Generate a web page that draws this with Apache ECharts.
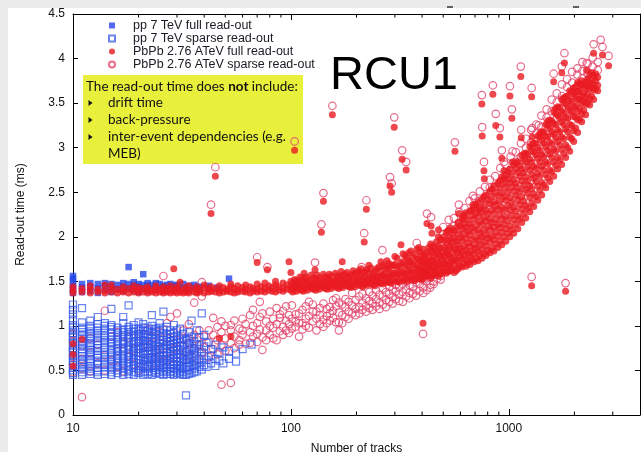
<!DOCTYPE html>
<html><head><meta charset="utf-8">
<script src="https://cdn.jsdelivr.net/npm/echarts@6/dist/echarts.min.js"></script>
<style>html,body{margin:0;padding:0;background:#ececec}#c{width:641px;height:452px}</style>
</head><body><div id="c"></div>
<script>
const seriesNames = ['pp 7 TeV full read-out','pp 7 TeV sparse read-out','PbPb 2.76 ATeV full read-out','PbPb 2.76 ATeV sparse read-out'];
const xTickLabels = [10, 100, 1000];
const xMinorTicks = [20,30,40,50,60,70,80,90,200,300,400,500,600,700,800,900,2000,3000];
const yTickStep = 0.5;
const noteLines = ['drift time','back-pressure','inter-event dependencies (e.g.','MEB)'];

// columns: [number of tracks, read-out times...]
const ppFullCols = [
[10,1.37,1.41,1.45,1.49,1.53,1.56],[11,1.38,1.43,1.47],[12,1.39,1.44,1.48],[13,1.37,1.42,1.47],
[14,1.40,1.45,1.48],[15,1.38,1.43,1.47],[16,1.41,1.46],[17,1.39,1.44,1.48],[18,1.42,1.47,1.66],
[19,1.40,1.45,1.49],[20,1.38,1.44,1.47],[21,1.41,1.46,1.58],[22,1.39,1.45,1.48],[23,1.42,1.46],
[24,1.40,1.44,1.48],[25,1.41,1.47],[26,1.39,1.45],[27,1.42,1.46],[28,1.40,1.47],[29,1.43,1.45],
[30,1.41,1.46],[32,1.42,1.47],[34,1.40,1.45],[36,1.43,1.46],[38,1.41,1.44],[42,1.42,1.45],[46,1.43],[52,1.53]
];
const ppSparseCols = [
[10,0.45,0.50,0.56,0.61,0.67,0.72,0.78,0.84,0.89,0.95,1.01,1.07,1.13,1.18,1.24],
[11,0.45,0.51,0.57,0.62,0.69,0.74,0.80,0.86,0.93,0.98,1.04,1.20],
[12,0.46,0.52,0.58,0.63,0.70,0.76,0.81,0.88,0.94,1.00,1.06],
[13,0.45,0.50,0.57,0.64,0.69,0.75,0.83,0.89,0.95,1.02,1.10],
[14,0.46,0.53,0.59,0.65,0.71,0.78,0.84,0.90,0.97,1.03],
[15,0.45,0.51,0.57,0.63,0.70,0.77,0.82,0.88,0.96,1.01,1.19],
[16,0.47,0.53,0.60,0.66,0.72,0.79,0.85,0.92,0.98],
[17,0.45,0.52,0.58,0.64,0.71,0.76,0.83,0.90,0.96,1.03,1.10],
[18,0.46,0.51,0.59,0.65,0.73,0.78,0.86,0.93,0.99,1.23],
[19,0.45,0.53,0.60,0.67,0.72,0.80,0.87,0.94,1.01],
[20,0.47,0.52,0.58,0.66,0.74,0.81,0.85,0.91,0.97,1.04],
[21,0.45,0.54,0.61,0.68,0.75,0.79,0.88,0.95,1.02],
[22,0.46,0.52,0.59,0.64,0.72,0.83,0.90,0.98],
[23,0.45,0.55,0.62,0.69,0.76,0.82,0.93,1.00,1.12],
[24,0.47,0.53,0.60,0.67,0.73,0.86,0.91,0.97],
[25,0.46,0.51,0.58,0.65,0.77,0.84,0.94,1.03],
[26,0.45,0.56,0.63,0.70,0.80,0.88,0.96,1.16],
[27,0.48,0.54,0.61,0.74,0.82,0.90,0.99],
[28,0.46,0.52,0.66,0.72,0.79,0.87,0.95],
[29,0.45,0.57,0.63,0.76,0.84,0.92,1.01],
[30,0.47,0.53,0.60,0.69,0.81,0.89],
[31,0.46,0.55,0.64,0.73,0.86,0.97],
[32,0.48,0.58,0.67,0.78,0.91],
[33,0.45,0.54,0.62,0.71,0.84,0.22],
[34,0.50,0.59,0.68,0.80,0.93],
[35,0.47,0.56,0.65,0.75,0.88,1.06],
[36,0.52,0.61,0.72,0.83],
[37,0.49,0.58,0.69,0.79,0.95],
[38,0.54,0.63,0.74,0.87],
[39,0.51,0.60,0.71,1.14],
[40,0.56,0.66,0.77,0.90],
[41,0.54,0.62,0.81],[43,0.58,0.67,0.74],[45,0.55,0.63,0.79],[47,0.61,0.70],
[49,0.58,0.76],[52,0.63,0.72],[56,0.69,0.60],[60,0.74],[66,0.79]
];
// further pp sparse events in the crowded low-multiplicity block
const ppSparseDenseCols = [
[10,0.47,0.53,0.59,0.64,0.70,0.75,0.81,0.87,0.92,0.98],[11,0.48,0.54,0.60,0.66,0.71,0.77,0.83,0.90,0.96],
[12,0.49,0.55,0.61,0.67,0.73,0.79,0.85,0.91,0.97],[13,0.48,0.53,0.60,0.67,0.72,0.79,0.86,0.92,0.98],
[14,0.49,0.56,0.62,0.68,0.75,0.81,0.87,0.94,1.00],[15,0.48,0.54,0.60,0.67,0.73,0.80,0.85,0.92,0.99],
[16,0.50,0.56,0.63,0.69,0.75,0.82,0.88,0.95],[17,0.48,0.55,0.61,0.67,0.74,0.80,0.87,0.93],
[18,0.49,0.55,0.62,0.69,0.76,0.82,0.89,0.96],[19,0.48,0.56,0.63,0.70,0.76,0.83,0.90,0.97],
[20,0.49,0.55,0.62,0.70,0.77,0.83,0.88,0.94],[21,0.48,0.57,0.64,0.71,0.77,0.84,0.91,0.98],
[22,0.49,0.55,0.62,0.68,0.76,0.80,0.87,0.94],[23,0.48,0.58,0.65,0.72,0.79,0.86,0.96],
[24,0.50,0.56,0.63,0.70,0.77,0.82,0.94],[25,0.48,0.55,0.61,0.70,0.74,0.80,0.88,0.98],
[26,0.49,0.53,0.60,0.66,0.75,0.84,0.92],[27,0.46,0.51,0.57,0.66,0.70,0.78,0.86],
[28,0.49,0.56,0.60,0.69,0.76,0.83,0.91],[29,0.48,0.52,0.60,0.68,0.72,0.80,0.88],
[30,0.50,0.56,0.64,0.73,0.77,0.85,0.95],[31,0.49,0.52,0.60,0.68,0.78,0.82],
[32,0.45,0.52,0.62,0.72,0.85],[34,0.46,0.54,0.63,0.74,0.86],[36,0.48,0.56,0.67,0.77]
];
const pbFullCols = [
[10,1.37,1.40,1.44,0.55,0.68,0.80],[11,1.38,1.42,0.85],[12,1.37,1.41,1.45],[13,1.38,1.41],
[14,1.37,1.40,1.46],[15,1.38,1.42,1.46],[16,1.37,1.41],[17,1.38,1.40,1.44],[18,1.37,1.42],
[19,1.38,1.41,1.45],[20,1.37,1.40,1.43],[21,1.38,1.42],[22,1.37,1.41,1.44],[23,1.38,1.40],
[24,1.37,1.42,1.45],[25,1.38,1.41],[26,1.37,1.40,1.44],[27,1.38,1.42],[28,1.37,1.41,1.45],
[29,1.38,1.40,1.64],[30,1.37,1.42,1.44],[31,1.38,1.49],[32,1.37,1.41],[33,1.38,1.43],
[34,1.37,1.40,1.45],[36,1.38,1.42],[37,1.37,1.44],[38,1.38,1.41],[40,1.37,1.43,1.46],
[42,1.38,1.41],[43,1.39,1.44],[45,1.38,1.42],[47,1.37,1.40,1.45,0.86],[49,1.38,1.43],
[51,1.39,1.41],[53,1.38,1.44,1.47,0.88],[55,1.37,1.42],[57,1.38,1.40,1.45],[60,1.39,1.43],
[62,1.38,1.41,1.46],[65,1.37,1.44],[67,1.39,1.42],[70,1.38,1.41,1.47],[73,1.39,1.44],
[76,1.38,1.42,1.48],[79,1.40,1.45],[82,1.39,1.43],[85,1.38,1.46,1.50],[88,1.40,1.44],
[92,1.39,1.42,1.48],[96,1.41,1.46],[100,1.40,1.44,1.50,1.60],
[104,1.41,1.46,1.52],[108,1.43,1.49],[112,1.40,1.45,1.53],[115,1.59],[117,1.42,1.48,1.55],
[122,1.44,1.50],[127,1.41,1.46,1.54],[132,1.43,1.49,1.57],[138,1.45,1.51],[144,1.42,1.47,1.55],
[150,1.44,1.52,1.58],[156,1.46,1.49],[163,1.43,1.50,1.56],[170,1.45,1.53,1.61],[177,1.47,1.51,1.58],
[185,1.44,1.49,1.55],[193,1.46,1.54,1.62],[201,1.48,1.52,1.59],[210,1.45,1.50,1.57,1.64],
[219,1.47,1.55,1.61],[228,1.49,1.53,1.60,1.68],[238,1.46,1.52,1.58],[248,1.50,1.56,1.64],
[259,1.48,1.54,1.61,1.72],[270,1.51,1.58,1.66],[282,1.49,1.55,1.63,1.70],[294,1.52,1.59,1.68],
[307,1.50,1.57,1.65,1.76],[320,1.54,1.61,1.70],[334,1.52,1.59,1.67,1.79],[348,1.55,1.63,1.73,1.82],
[363,1.53,1.60,1.69,1.77],[379,1.57,1.65,1.75,1.86],[392,1.55,1.62,1.72,1.83],
[404,1.53,1.59,1.63,1.71,1.76,1.86],[421,1.56,1.60,1.67,1.72,1.82],[438,1.54,1.62,1.68,1.74,1.85,1.92],
[456,1.58,1.63,1.70,1.79,1.87],[475,1.56,1.64,1.71,1.81,1.90,2.00],[495,1.60,1.66,1.75,1.83,1.96],
[516,1.59,1.65,1.73,1.82,1.93,2.05],[538,1.62,1.70,1.77,1.89,1.99,2.10],[561,1.60,1.68,1.76,1.87,1.98,2.07],
[585,1.64,1.71,1.82,1.91,2.03,2.16],[610,1.66,1.75,1.84,1.96,2.09,2.20],[636,1.67,1.74,1.85,1.98,2.11,2.27],
[663,1.69,1.78,1.89,2.02,2.14,2.29],[692,1.72,1.81,1.91,2.06,2.20,2.33],[722,1.73,1.84,1.96,2.08,2.23,2.39],
[753,1.76,1.86,2.00,2.14,2.28,2.42],[785,1.79,1.90,2.02,2.18,2.30,2.47],[819,1.82,1.94,2.08,2.20,2.37,2.51],
[854,1.84,1.97,2.11,2.26,2.39,2.57],[891,1.88,2.01,2.14,2.31,2.46,2.60],[929,1.91,2.05,2.20,2.33,2.49,2.67],
[969,1.95,2.09,2.23,2.41,2.56,2.69],[1011,2.00,2.12,2.30,2.44,2.61,2.76],[1054,2.04,2.19,2.33,2.51,2.64,2.81],
[1100,2.09,2.23,2.41,2.55,2.72,2.84],[1147,2.16,2.31,2.45,2.63,2.76,2.91],[1196,2.21,2.35,2.53,2.67,2.84,2.94],
[1248,2.28,2.44,2.57,2.75,2.87,3.01],[1302,2.34,2.48,2.66,2.79,2.95,3.05],[1358,2.41,2.57,2.71,2.88,3.00,3.13],
[1416,2.47,2.61,2.79,2.92,3.08,3.18],[1477,2.55,2.70,2.84,3.01,3.13,3.26],[1541,2.62,2.75,2.93,3.06,3.22,3.31],
[1607,2.68,2.84,2.98,3.15,3.27,3.41],[1676,2.76,2.89,3.07,3.20,3.36,3.46],[1749,2.81,2.98,3.12,3.29,3.41,3.54],
[1824,2.89,3.03,3.21,3.34,3.49,3.57],[1903,2.96,3.12,3.26,3.42,3.53,3.64],[1985,3.07,3.19,3.35,3.46,3.60,3.67],
[2070,3.17,3.31,3.41,3.54,3.63,3.73],[2160,3.29,3.38,3.50,3.58,3.70,3.75],[2253,3.37,3.49,3.56,3.67,3.74],
[2350,3.48,3.55,3.66,3.72,3.82],[2452,3.54,3.65,3.71,3.81],[2557,3.64,3.70,3.79]
];
// extra PbPb full events read between the columns above (mid band)
const pbFullMidCols = [
[102,1.38,1.43,1.48],[106,1.39,1.45,1.51],[110,1.41,1.47,1.55],[114,1.39,1.44,1.50],
[119,1.40,1.46,1.52],[124,1.42,1.47,1.57],[130,1.40,1.45,1.52],[135,1.41,1.47,1.54],
[141,1.43,1.49,1.58],[147,1.41,1.46,1.53],[153,1.42,1.48,1.56],[160,1.44,1.51,1.59],
[166,1.42,1.47,1.55],[173,1.43,1.49,1.57],[181,1.45,1.52,1.60],[189,1.43,1.48,1.57],
[197,1.44,1.50,1.59],[205,1.46,1.53,1.62],[214,1.44,1.51,1.59],[223,1.46,1.52,1.63],
[233,1.47,1.55,1.65],[243,1.45,1.53,1.61],[253,1.48,1.55,1.66],[264,1.47,1.57,1.68],
[276,1.49,1.55,1.64,1.73],[288,1.48,1.57,1.67],[300,1.50,1.59,1.69,1.78],[313,1.49,1.58,1.67],
[327,1.51,1.60,1.72,1.81],[341,1.50,1.58,1.68,1.76],[355,1.52,1.62,1.71,1.84],[371,1.51,1.59,1.68,1.80],
[386,1.53,1.64,1.74,1.88],[398,1.52,1.60,1.69,1.79]
];
// extra PbPb full events read between the columns above (high-multiplicity band)
const pbFullDenseCols = [
[412,1.56,1.62,1.68,1.74,1.80],[429,1.57,1.65,1.71,1.78,1.88],[447,1.56,1.66,1.73,1.82,1.90],
[465,1.60,1.67,1.75,1.84,1.94],[485,1.58,1.69,1.78,1.87,1.97],[505,1.62,1.70,1.79,1.88,2.00],
[527,1.61,1.68,1.80,1.86,1.96,2.07],[549,1.64,1.73,1.82,1.93,2.04],[573,1.62,1.74,1.85,1.95,2.10],
[597,1.67,1.78,1.87,1.99,2.12],[623,1.70,1.79,1.90,2.03,2.15,2.24],[649,1.71,1.81,1.93,2.06,2.19],
[677,1.74,1.84,1.97,2.10,2.24],[707,1.76,1.87,1.99,2.13,2.27,2.36],[737,1.79,1.91,2.04,2.17,2.32],
[769,1.81,1.94,2.08,2.22,2.35,2.45],[802,1.85,1.98,2.12,2.26,2.41],[836,1.87,2.01,2.16,2.30,2.45,2.54],
[872,1.92,2.05,2.20,2.35,2.50],[910,1.95,2.10,2.25,2.40,2.55,2.63],[949,2.00,2.14,2.30,2.45,2.60],
[990,2.04,2.18,2.35,2.50,2.65,2.73],[1032,2.08,2.24,2.39,2.56,2.70],[1077,2.14,2.29,2.46,2.60,2.76,2.83],
[1123,2.20,2.36,2.51,2.68,2.80],[1171,2.26,2.40,2.58,2.72,2.87,2.93],[1222,2.32,2.49,2.63,2.79,2.92],
[1275,2.38,2.54,2.70,2.84,2.98,3.04],[1330,2.45,2.62,2.77,2.92,3.05],[1387,2.52,2.68,2.84,2.97,3.12,3.16],
[1446,2.58,2.75,2.90,3.05,3.18],[1509,2.66,2.82,2.97,3.12,3.25,3.30],[1574,2.73,2.89,3.04,3.18,3.30],
[1641,2.80,2.96,3.11,3.26,3.38,3.44],[1712,2.86,3.03,3.18,3.33,3.45],[1786,2.93,3.10,3.26,3.39,3.52,3.56],
[1863,3.00,3.18,3.33,3.46,3.58],[1944,3.10,3.25,3.40,3.52,3.63],[2027,3.22,3.34,3.47,3.58,3.68],
[2115,3.32,3.44,3.54,3.64,3.72],[2206,3.42,3.52,3.61,3.70],[2301,3.50,3.60,3.69,3.77],
[2400,3.58,3.68,3.76,3.84],[2504,3.66,3.75,3.83]
];
const pbSparseCols = [
[10,0.48,0.57,0.66,0.74,0.83,0.91],[11,0.20,0.52,0.63,0.78],[12,0.49,0.70,0.86],[13,0.58,0.79],
[14,0.50,0.67,1.17],[15,0.61,0.88],[16,0.54,0.72,0.93],[17,0.49,0.80],[18,0.66,0.87],[19,0.57,0.74],
[20,0.50,0.62,0.91],[21,0.69,0.83],[22,0.55,0.77,0.96],[23,0.64,0.88],[24,0.58,0.72],[25,0.67,0.81,0.93],
[26,0.60,0.75,1.56],[27,0.70,0.86,1.03],[28,0.63,0.79,1.10],[29,0.57,0.74,0.92],[30,0.68,0.84,1.14],
[32,0.63,0.77,0.95],[33,0.71,0.86],[34,0.66,0.81,1.02],[36,0.74,0.90,1.26],[37,0.62,0.85],[38,0.79,0.95],
[39,0.70,1.33,1.49],[40,0.76,0.88],[42,0.65,0.82,0.95],[44,0.74,0.90,1.09],[46,0.68,0.84,0.99],
[48,0.34,0.78,0.93,1.05],[50,0.72,0.86,1.00],[53,0.36,0.81,0.95,1.01],[55,0.75,0.88,1.06],
[58,0.79,0.84,0.97],[60,0.90,0.95,1.08],[62,0.80,1.02],[65,0.81,0.93,1.12],[67,0.88,1.00,1.18],
[70,0.82,0.91,1.03],[72,0.96,1.10,1.27],[74,0.73,0.87,1.14],[77,0.84,0.95,1.05],[80,0.90,1.00,1.16],
[83,0.86,0.98,1.08],[86,0.84,1.02,1.20],[89,0.94,1.09,1.13],[92,0.90,0.99,1.17],[95,0.95,1.06,1.22],
[98,0.92,1.02,1.12],[101,0.97,1.08,1.23],[105,0.99,1.05,1.13],[109,0.88,1.03,1.14],[113,0.96,1.03,1.18],
[117,1.00,1.08,1.22],[121,0.98,1.11,1.27],[126,1.05,1.16,1.24],[131,0.95,1.08,1.16],[136,1.02,1.12,1.20],
[141,0.99,1.07,1.25],[146,1.03,1.11,1.19],[151,1.06,1.14,1.21],[156,1.09,1.17,1.29],[161,1.04,1.22,1.31],
[166,0.95,1.04,1.15,1.26],[172,1.03,1.12,1.24],[178,1.10,1.21,1.30],[184,1.08,1.16,1.27],[191,1.14,1.23,1.37],
[198,1.12,1.19,1.29],[206,1.14,1.21,1.33],[213,1.18,1.26,1.36],[221,1.16,1.22,1.31],[229,1.20,1.28,1.38],
[237,1.18,1.25,1.34],[246,1.22,1.30,1.40],[255,1.19,1.26,1.35],[264,1.24,1.33,1.42],[273,1.21,1.29,1.38],
[283,1.27,1.36,1.44],[293,1.25,1.32,1.41],[303,1.30,1.39,1.46],[314,1.28,1.35,1.44],[326,1.27,1.38,1.47],
[338,1.33,1.41,1.50],[350,1.31,1.37,1.46],[363,1.36,1.44,1.52],[376,1.34,1.40,1.49],[390,1.39,1.47,1.55],
[405,1.37,1.43,1.52],[420,1.40,1.50,1.57],[436,1.43,1.46,1.54],[452,1.47,1.50,1.59],[469,1.53,1.62],
[487,1.52,1.56,1.66],
[500,1.71,1.84,2.03,2.11],[530,1.73,1.91,2.06,2.19],[560,1.77,1.92,2.12,2.21],[592,1.79,2.01,2.15,2.28],
[625,1.85,2.04,2.21,2.32],[660,1.87,2.10,2.25,2.40],[697,1.93,2.13,2.32,2.43],[736,1.95,2.20,2.36,2.51],
[777,2.03,2.23,2.44,2.56],[820,2.05,2.31,2.48,2.64],[866,2.13,2.35,2.56,2.68],[914,2.17,2.43,2.60,2.77],
[965,2.26,2.48,2.69,2.81],[1019,2.31,2.57,2.74,2.90],[1076,2.41,2.63,2.84,2.95],[1136,2.47,2.73,2.90,3.05],
[1199,2.57,2.79,3.00,3.10],[1266,2.63,2.89,3.06,3.20],[1336,2.74,2.96,3.16,3.26],[1411,2.82,3.07,3.23,3.36],
[1490,2.94,3.14,3.34,3.43],[1573,3.02,3.26,3.41,3.54],[1660,3.14,3.33,3.51,3.61],[1753,3.22,3.44,3.58,3.71],
[1850,3.34,3.51,3.68,3.77],[1953,3.43,3.62,3.73,3.85],[2062,3.57,3.69,3.82,3.89],[2177,3.64,3.78,3.86,3.96],
[2298,3.73,3.83,3.94],[2426,3.79,3.91,4.01],[2560,3.87,3.96]
];
// PbPb outlier events: [tracks, sparse time, full time]
const pbPairs = [
[43,2.36,2.26],[45,2.78,2.68],[70,1.77,1.71],[78,1.66,1.63],[98,null,1.72],[104,3.07,2.97],
[129,1.71,1.63],[172,null,1.72],[138,2.14,2.05],[141,2.49,2.40],[155,3.47,3.37],[211,1.66,null],
[217,2.04,1.94],[222,2.41,2.31],[263,1.85,null],[285,2.67,2.57],[290,2.60,2.50],[298,3.34,3.23],
[320,null,1.91],[324,2.97,2.87],[338,2.84,2.75],[378,1.93,null],[404,0.91,1.03],[421,2.26,2.15],
[440,2.22,2.12],[444,null,2.04],[476,null,2.08],[566,3.06,2.96],[590,2.36,2.26],[620,null,2.22],
[677,null,2.30],[684,2.46,2.36],[730,2.40,2.30],[752,3.59,3.49],[755,3.23,3.13],[769,2.84,2.74],
[772,null,2.65],[818,2.55,null],[845,3.70,3.60],[871,3.38,3.25],[910,3.22,3.12],[929,2.97,2.88],
[950,2.84,2.74],[955,null,2.65],[1012,3.69,3.58],[1033,3.43,3.33],[1040,2.96,2.84],[1135,3.91,3.80],
[1140,3.20,3.11],[1273,3.67,3.57],[1280,3.22,3.12],[1273,1.55,1.45],[1371,3.25,null],[1606,3.83,3.74],
[1750,3.91,3.84],[1800,4.06,3.95],[1822,1.48,1.39],[2275,3.95,3.87],[2450,4.16,4.06],[2640,4.21,null],
[2690,4.13,4.04],[2870,4.03,3.92]
];

function flat(cols){const out=[];cols.forEach(c=>{for(let i=1;i<c.length;i++)out.push([c[0],c[i]]);});return out;}
const ppFull = flat(ppFullCols), ppSparse = flat(ppSparseCols).concat(flat(ppSparseDenseCols));
const pbFull = flat(pbFullCols).concat(flat(pbFullMidCols), flat(pbFullDenseCols)), pbSparse = flat(pbSparseCols);
pbPairs.forEach(p=>{ if(p[1]!=null) pbSparse.push([p[0],p[1]]); if(p[2]!=null) pbFull.push([p[0],p[2]]); });

const FONT = 'Liberation Sans';
const chart = echarts.init(document.getElementById('c'), null, {renderer:'canvas'});
const axisLine = {show:true, onZero:false, lineStyle:{color:'#000', width:1}};
const xBase = {type:'log', logBase:10, min:10, max:4000, splitLine:{show:false}, axisLine:axisLine,
  axisTick:{show:true, inside:true, length:6, lineStyle:{color:'#000'}}};
const yBase = {type:'value', min:0, max:4.5, interval:yTickStep, splitLine:{show:false}, axisLine:axisLine,
  axisTick:{show:true, inside:true, length:5, lineStyle:{color:'#000'}}};
chart.setOption({
  animation:false,
  backgroundColor:'#ececec',
  grid:{left:73, right:1, top:14, bottom:37, containLabel:false, outerBoundsMode:'none'},
  legend:{orient:'vertical', left:103, top:14, itemWidth:6, itemHeight:6, itemGap:0, selectedMode:false,
    textStyle:{fontFamily:FONT, fontSize:12.5, color:'#1a1a24', padding:[0,0,0,13], lineHeight:12},
    data:seriesNames},
  xAxis:[
    Object.assign({}, xBase, {position:'bottom',
      axisLabel:{fontFamily:FONT, fontSize:12, color:'#111', margin:8,
        formatter:v=>{const r=Math.round(v); return xTickLabels.indexOf(r)>=0? String(r):'';}},
      name:'Number of tracks', nameLocation:'middle', nameGap:28,
      nameTextStyle:{fontFamily:FONT, fontSize:12, color:'#111'}}),
    Object.assign({}, xBase, {position:'top', axisLabel:{show:false}})
  ],
  yAxis:[
    Object.assign({}, yBase, {position:'left',
      axisLabel:{fontFamily:FONT, fontSize:12, color:'#111', margin:8},
      name:'Read-out time (ms)', nameLocation:'middle', nameGap:46, nameRotate:90,
      nameTextStyle:{fontFamily:FONT, fontSize:12, color:'#111'}}),
    Object.assign({}, yBase, {position:'right', axisLabel:{show:false}})
  ],
  series:[
    {name:seriesNames[0], type:'scatter', symbol:'rect', symbolSize:6.5, z:4, data:ppFull,
      itemStyle:{color:'#2446e8'}, emphasis:{disabled:true}},
    {name:seriesNames[1], type:'scatter', symbol:'rect', symbolSize:7, z:3, data:ppSparse,
      itemStyle:{color:'rgba(255,255,255,0)', borderColor:'rgba(48,84,232,0.9)', borderWidth:1.2}, emphasis:{disabled:true}},
    {name:seriesNames[2], type:'scatter', symbol:'circle', symbolSize:7, z:5, data:pbFull,
      itemStyle:{color:'#ea1a22'}, emphasis:{disabled:true}},
    {name:seriesNames[3], type:'scatter', symbol:'circle', symbolSize:7.5, z:2, data:pbSparse,
      itemStyle:{color:'rgba(255,255,255,0)', borderColor:'#e2486e', borderWidth:1.2}, emphasis:{disabled:true}}
  ]
});

// graphic decorations
const els = [];
els.push({type:'rect', z:-1, shape:{x:8,y:8,width:633,height:444}, style:{fill:'#fff'}});
els.push({type:'rect', z:1, shape:{x:83,y:75,width:220,height:89}, style:{fill:'#e8f03c'}});
const NOTE_FONT = 'Lato';
els.push({type:'text', z:1, x:86, y:87, style:{text:'The read-out time does {b|not} include:', fontFamily:NOTE_FONT, fontSize:13.5,
  fill:'#111', verticalAlign:'middle', rich:{b:{fontFamily:NOTE_FONT, fontSize:13.5, fontWeight:'bold', fill:'#111'}}}});
noteLines.forEach((t,i)=>{
  const y = 103 + i*17;
  if (i < 3) els.push({type:'polygon', z:1, shape:{points:[[88.5,y-3],[92.5,y],[88.5,y+3]]}, style:{fill:'#111'}});
  els.push({type:'text', z:1, x:108, y:y, style:{text:t, fontFamily:NOTE_FONT, fontSize:13.5, fill:'#111', verticalAlign:'middle'}});
});
els.push({type:'text', z:1, x:330, y:76, style:{text:'RCU1', fontFamily:FONT, fontSize:47, fill:'#000', verticalAlign:'middle'}});
els.push({type:'line', z:1, shape:{x1:447,y1:7,x2:453,y2:7}, style:{stroke:'#333', lineWidth:1.5}});
els.push({type:'line', z:1, shape:{x1:573,y1:7,x2:579,y2:7}, style:{stroke:'#333', lineWidth:1.5}});
// minor log ticks (positions from the axis scale)
const yb = chart.convertToPixel({yAxisIndex:0}, 0);
const yt = chart.convertToPixel({yAxisIndex:0}, 4.5);
xMinorTicks.forEach(v=>{
  const px = chart.convertToPixel({xAxisIndex:0}, v);
  els.push({type:'line', z:1, shape:{x1:px,y1:yb,x2:px,y2:yb-3.5}, style:{stroke:'#000', lineWidth:1}});
  els.push({type:'line', z:1, shape:{x1:px,y1:yt,x2:px,y2:yt+3.5}, style:{stroke:'#000', lineWidth:1}});
});
chart.setOption({graphic:{elements:els}});
</script></body></html>
